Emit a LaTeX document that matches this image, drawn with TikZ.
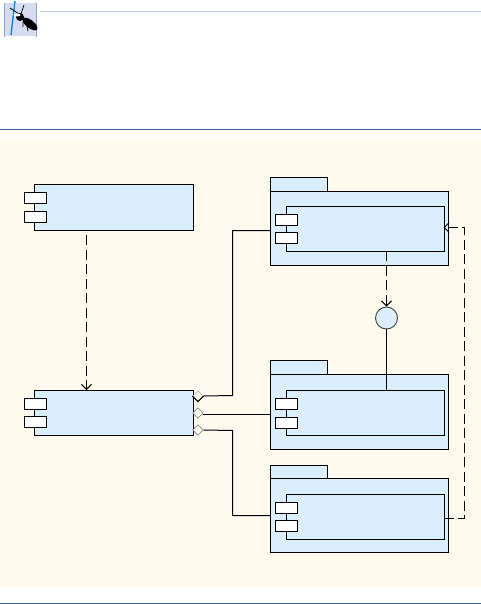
\documentclass[tikz,border=0pt]{standalone}
\usetikzlibrary{arrows.meta,shapes.geometric}
\definecolor{panelcream}{HTML}{FFFAEE}
\definecolor{bandcream}{HTML}{FFFDF7}
\definecolor{compblue}{HTML}{DBEEFB}
\definecolor{rulenavy}{HTML}{3A6AA6}
\definecolor{rulepale}{HTML}{BFCBDD}
\definecolor{iconlav}{HTML}{D6DCF0}
\tikzset{
  line/.style={line width=1pt, black},
  solidbox/.style={line, draw, fill=compblue, rectangle, inner sep=0pt, anchor=north west},
  portbox/.style={line, draw, fill=white, rectangle, inner sep=0pt, anchor=north west, minimum width=21.5pt, minimum height=11pt},
  link/.style={line, dash pattern=on 10pt off 4.5pt, -{Straight Barb[length=5pt,width=10pt]}},
  agg/.style={draw=black!45, line width=0.7pt, fill=panelcream, diamond, inner sep=0pt, minimum size=10.5pt},
}
\begin{document}
\begin{tikzpicture}[x=1pt, y=-1pt, >=Latex]
\useasboundingbox (0,0) rectangle (481,604);
% page furniture
\fill[bandcream] (0,129.5) rectangle (481,141);
\fill[panelcream] (0,141) rectangle (481,587);
\draw[rulepale, line width=0.8pt] (40,11.5) -- (481,11.5);
\draw[rulenavy, line width=1pt] (0,129.5) -- (481,129.5);
\draw[rulenavy, line width=1pt] (0,603.5) -- (481,603.5);
% ant icon
\fill[iconlav] (4.5,3) rectangle (36.5,36);
\draw[rulenavy!60, line width=0.6pt] (4.5,3) -- (4.5,37) (36.5,3) -- (36.5,37);
\draw[cyan!70!blue, line width=1.4pt] (11,35) -- (15,1);
\fill[black, rotate around={-38:(30,24)}] (30,24) ellipse (9pt and 4pt);
\fill[black] (20,17) circle (4pt);
\draw[black, line width=0.7pt] (10,8) -- (19,14) (24,5) -- (21,14) (27,26) -- (28,31) (23,22) -- (23,27);
\fill[white] (17,15) ellipse (3.5pt and 1.5pt);
% component on the left, top
\node[solidbox, minimum width=158.5pt, minimum height=46pt] (compTop) at (34,184) {};
\node[portbox] (compTopP) at (24,192) {};
\node[portbox] (compTopQ) at (24,211) {};
% component on the left, bottom
\node[solidbox, minimum width=158.5pt, minimum height=45pt] (compMain) at (34,390) {};
\node[portbox] (compMainP) at (24,398) {};
\node[portbox] (compMainQ) at (24,416) {};
% package one
\node[solidbox, minimum width=56.5pt, minimum height=14pt] (tabOne) at (270,177) {};
\node[solidbox, minimum width=178pt, minimum height=74pt] (pkgOne) at (270,190.5) {};
\node[solidbox, minimum width=158pt, minimum height=45pt] (innerOne) at (285.5,206) {};
\node[portbox] (portOneP) at (275,214) {};
\node[portbox] (portOneQ) at (275,232) {};
% package two
\node[solidbox, minimum width=56.5pt, minimum height=14pt] (tabTwo) at (270,360) {};
\node[solidbox, minimum width=178pt, minimum height=74.5pt] (pkgTwo) at (270,374) {};
\node[solidbox, minimum width=158pt, minimum height=45pt] (innerTwo) at (285.5,390) {};
\node[portbox] (portTwoP) at (275,398) {};
\node[portbox] (portTwoQ) at (275,416.5) {};
% package three
\node[solidbox, minimum width=56.5pt, minimum height=14pt] (tabThree) at (270,465) {};
\node[solidbox, minimum width=178pt, minimum height=74pt] (pkgThree) at (270,478) {};
\node[solidbox, minimum width=158pt, minimum height=45pt] (innerThree) at (285.5,494) {};
\node[portbox] (portThreeP) at (275,502) {};
\node[portbox] (portThreeQ) at (275,520) {};
% interface circle
\node[draw=black!75, line width=0.9pt, fill=compblue, circle, minimum size=22pt, inner sep=0pt] (lollipop) at (386.5,318) {};
% diamonds on the main component
\node[agg, draw=black!25] (aggOne) at (198,396) {};
\node[agg] (aggTwo) at (198,413) {};
\node[agg] (aggThree) at (198,430) {};
\draw[line] (aggOne.west) -- (aggOne.south) -- (aggOne.east);
% connector ends
\coordinate (startTop) at (86.5,235);
\coordinate (endMain) at (86.5,390);
\coordinate (hookOne) at (270,230.5);
\coordinate (hookTwo) at (270,414.5);
\coordinate (hookThree) at (270,515.5);
\coordinate (outOne) at (386.5,251);
\coordinate (inTwo) at (386.5,390);
\coordinate (outThree) at (443.5,518.5);
\coordinate (inOne) at (443.5,227.5);
% connectors
\draw[line] (aggOne.east) -- (232.5,395.5) |- (hookOne);
\draw[line] (203,414.5) -- (hookTwo);
\draw[line] (aggThree.east) -- (232.5,430.5) |- (hookThree);
\draw[line] (lollipop.south) -- (inTwo);
\draw[link] (startTop) -- (endMain);
\draw[link] (outOne) -- (lollipop.north);
\draw[link] (outThree) -- (464.5,518.5) -- (464.5,227.5) -- (inOne);
\end{tikzpicture}
\end{document}
